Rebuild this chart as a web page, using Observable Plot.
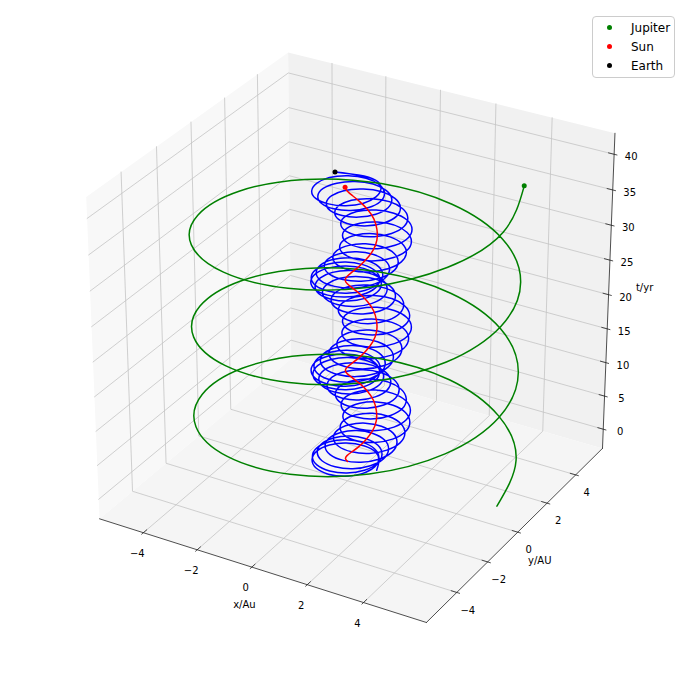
<!DOCTYPE html>
<html><head><meta charset="utf-8">
<script src="https://cdn.jsdelivr.net/npm/d3@7"></script>
<script src="https://cdn.jsdelivr.net/npm/@observablehq/plot@0.6"></script>
<style>
html,body{margin:0;padding:0;background:#fff}
#wrap{position:relative;width:691px;height:673px;font-family:"DejaVu Sans",sans-serif}
#legend{position:absolute;left:592px;top:16px;width:81px;height:60px;border:1px solid #ccc;border-radius:4px;background:rgba(255,255,255,.8);font-size:12px;color:#000}
#legend .row{position:absolute;left:0;height:14px;line-height:14px;white-space:nowrap}
#legend .dot{position:absolute;left:14px;top:4.5px;width:5px;height:5px;border-radius:50%}
#legend .lab{position:absolute;left:38px;top:0}
</style></head><body>
<div id="wrap"></div>
<script>
const xLim = [-5.65, 6.2], yLim = [-5.92, 5.92], tLim = [-2.92, 42.92];
const xTicks = [-4, -2, 0, 2, 4], yTicks = [-4, -2, 0, 2, 4], tTicks = [0, 5, 10, 15, 20, 25, 30, 35, 40];
const xTickLabels = ["−4", "−2", "0", "2", "4"], yTickLabels = ["−4", "−2", "0", "2", "4"], tTickLabels = ["0", "5", "10", "15", "20", "25", "30", "35", "40"];

const jupT = [0,1,2,3,4,5,6,7,8,9,10,11,12,13,14,15,16,17,18,19,20,21,22,23,24,25,26,27,28,29,30,31,32,33,34,35,36,37,38,39,40];
const jupX = [5.44,4.85,3.22,.92,-1.52,-3.55,-4.69,-4.69,-3.55,-1.52,.92,3.22,4.85,5.44,4.85,3.22,.92,-1.52,-3.55,-4.69,-4.69,-3.55,-1.52,.92,3.22,4.85,5.44,4.85,3.22,.92,-1.52,-3.55,-4.69,-4.69,-3.55,-1.52,.92,3.22,4.85,5.44,4.78];
const jupY = [0,2.39,4.23,5.10,4.81,3.41,1.23,-1.23,-3.41,-4.81,-5.10,-4.23,-2.39,0,2.39,4.23,5.10,4.81,3.41,1.23,-1.23,-3.41,-4.81,-5.10,-4.23,-2.39,0,2.39,4.23,5.10,4.81,3.41,1.23,-1.23,-3.41,-4.81,-5.10,-4.23,-2.39,0,2.60];

const sunX = [0,.06,.22,.44,.68,.87,.99,.99,.87,.68,.44,.22,.06,0,.06,.22,.44,.68,.87,.99,.99,.87,.68,.44,.22,.06,0,.06,.22,.44,.68,.87,.99,.99,.87,.68,.44,.22,.06,0,.06];
const sunY = [0,-.23,-.41,-.50,-.47,-.33,-.12,.12,.33,.47,.50,.41,.23,0,-.23,-.41,-.50,-.47,-.33,-.12,.12,.33,.47,.50,.41,.23,0,-.23,-.41,-.50,-.47,-.33,-.12,.12,.33,.47,.50,.41,.23,0,-.23];

const earthT = [0,.19,.38,.57,.75,.94,1.13,1.32,1.51,1.70,1.88,2.07,2.26,2.45,2.64,2.83,3.01,3.20,3.39,3.58,3.77,3.96,4.15,4.33,4.52,4.71,4.90,5.09,5.28,5.46,5.65,5.84,6.03,6.22,6.41,6.60,6.78,6.97,7.16,7.35,7.54,7.73,7.91,8.10,8.29,8.48,8.67,8.86,9.04,9.23,9.42,9.61,9.80,9.99,10.18,10.36,10.55,10.74,10.93,11.12,11.31,11.49,11.68,11.87,12.06,12.25,12.44,12.62,12.81,13.00,13.19,13.38,13.57,13.76,13.94,14.13,14.32,14.51,14.70,14.89,15.07,15.26,15.45,15.64,15.83,16.02,16.21,16.39,16.58,16.77,16.96,17.15,17.34,17.52,17.71,17.90,18.09,18.28,18.47,18.66,18.84,19.03,19.22,19.41,19.60,19.79,19.97,20.16,20.35,20.54,20.73,20.92,21.11,21.29,21.48,21.67,21.86,22.05,22.24,22.42,22.61,22.80,22.99,23.18,23.37,23.55,23.74,23.93,24.12,24.31,24.50,24.69,24.87,25.06,25.25,25.44,25.63,25.82,26.00,26.19,26.38,26.57,26.76,26.95,27.13,27.32,27.51,27.70,27.89,28.08,28.26,28.45,28.64,28.83,29.02,29.21,29.40,29.58,29.77,29.96,30.15,30.34,30.53,30.71,30.90,31.09,31.28,31.47,31.66,31.84,32.03,32.22,32.41,32.60,32.79,32.97,33.16,33.35,33.54,33.73,33.92,34.11,34.29,34.48,34.67,34.86,35.05,35.24,35.42,35.61,35.80,35.99,36.18,36.37,36.56,36.74,36.93,37.12,37.31,37.50,37.69,37.87,38.06,38.25,38.44,38.63,38.82,39.00,39.19,39.38,39.57,39.76,40];
const earthX = [1.08,.54,-.53,-1.06,-.51,.59,1.15,.64,-.41,-.92,-.35,.77,1.35,.85,-.19,-.68,-.10,1.03,1.61,1.12,.08,-.41,.17,1.29,1.87,1.36,.32,-.19,.38,1.48,2.04,1.52,.45,-.08,.46,1.54,2.08,1.53,.44,-.12,.40,1.46,1.97,1.40,.28,-.29,.21,1.25,1.75,1.16,.04,-.55,-.05,.98,1.48,.89,-.23,-.81,-.31,.73,1.24,.67,-.44,-1.01,-.49,.57,1.10,.55,-.54,-1.08,-.54,.55,1.10,.57,-.49,-1.01,-.44,.67,1.24,.73,-.31,-.81,-.23,.89,1.48,.98,-.05,-.55,.04,1.16,1.75,1.25,.21,-.29,.28,1.40,1.97,1.46,.40,-.12,.44,1.53,2.08,1.54,.46,-.08,.45,1.52,2.04,1.48,.38,-.19,.32,1.36,1.87,1.29,.17,-.41,.08,1.12,1.61,1.03,-.10,-.68,-.19,.85,1.35,.77,-.35,-.92,-.41,.64,1.15,.59,-.51,-1.06,-.53,.54,1.08,.54,-.53,-1.06,-.51,.59,1.15,.64,-.41,-.92,-.35,.77,1.35,.85,-.19,-.68,-.10,1.03,1.61,1.12,.08,-.41,.17,1.29,1.87,1.36,.32,-.19,.38,1.48,2.04,1.52,.45,-.08,.46,1.54,2.08,1.53,.44,-.12,.40,1.46,1.97,1.40,.28,-.29,.21,1.25,1.75,1.16,.04,-.55,-.05,.98,1.48,.89,-.23,-.81,-.31,.73,1.24,.67,-.44,-1.01,-.49,.57,1.10,.55,-.54,-1.08,-.54,.55,1.10,.57,-.73];
const earthY = [0,.89,.85,-.14,-1.12,-1.16,-.26,.64,.61,-.37,-1.34,-1.36,-.44,.48,.46,-.49,-1.44,-1.44,-.50,.45,.46,-.47,-1.39,-1.37,-.41,.56,.59,-.32,-1.22,-1.18,-.20,.78,.83,-.07,-.96,-.92,.07,1.05,1.10,.20,-.70,-.66,.32,1.29,1.32,.41,-.51,-.49,.47,1.42,1.43,.50,-.44,-.44,.49,1.42,1.40,.44,-.52,-.54,.37,1.27,1.24,.26,-.72,-.76,.14,1.03,.99,0,-.99,-1.03,-.14,.76,.72,-.26,-1.24,-1.27,-.37,.54,.52,-.44,-1.40,-1.42,-.49,.44,.44,-.50,-1.43,-1.42,-.47,.49,.51,-.41,-1.32,-1.29,-.32,.66,.70,-.20,-1.10,-1.05,-.07,.92,.96,.07,-.83,-.78,.20,1.18,1.22,.32,-.59,-.56,.41,1.37,1.39,.47,-.46,-.45,.50,1.44,1.44,.49,-.46,-.48,.44,1.36,1.34,.37,-.61,-.64,.26,1.16,1.12,.14,-.85,-.89,0,.89,.85,-.14,-1.12,-1.16,-.26,.64,.61,-.37,-1.34,-1.36,-.44,.48,.46,-.49,-1.44,-1.44,-.50,.45,.46,-.47,-1.39,-1.37,-.41,.56,.59,-.32,-1.22,-1.18,-.20,.78,.83,-.07,-.96,-.92,.07,1.05,1.10,.20,-.70,-.66,.32,1.29,1.32,.41,-.51,-.49,.47,1.42,1.43,.50,-.44,-.44,.49,1.42,1.40,.44,-.52,-.54,.37,1.27,1.24,.26,-.72,-.76,.14,1.03,.99,0,-.99,-1.03,-.14,.76,.51];

// matplotlib-style perspective (elev 30, azim -60, dist 10), cube normalised
const el = 30 * Math.PI / 180, az = -60 * Math.PI / 180, dist = 10;
const w = [Math.cos(el) * Math.cos(az), Math.cos(el) * Math.sin(az), Math.sin(el)];
const u = [-w[1] / Math.cos(el), w[0] / Math.cos(el), 0];
const v = [w[1] * u[2] - w[2] * u[1], w[2] * u[0] - w[0] * u[2], w[0] * u[1] - w[1] * u[0]];
function P(x, y, t) {
  const p = [(x - xLim[0]) / (xLim[1] - xLim[0]) - .5, (y - yLim[0]) / (yLim[1] - yLim[0]) - .5, (t - tLim[0]) / (tLim[1] - tLim[0]) - .5];
  const dot = a => a[0] * p[0] + a[1] * p[1] + a[2] * p[2];
  const d = dist - dot(w);
  return {X: dot(u) / d, Y: dot(v) / d};
}
const path = (id, pts) => pts.map(q => ({id, ...P(...q)}));
const [x0, x1] = xLim, [y0, y1] = yLim, [t0, t1] = tLim;

const paneLeft = path("l", [[x0,y0,t0],[x0,y1,t0],[x0,y1,t1],[x0,y0,t1],[x0,y0,t0]]);
const paneRight = path("r", [[x0,y1,t0],[x1,y1,t0],[x1,y1,t1],[x0,y1,t1],[x0,y1,t0]]);
const paneFloor = path("f", [[x0,y0,t0],[x1,y0,t0],[x1,y1,t0],[x0,y1,t0],[x0,y0,t0]]);

const grid = [
  ...xTicks.flatMap(x => path("gx" + x, [[x,y0,t0],[x,y1,t0],[x,y1,t1]])),
  ...yTicks.flatMap(y => path("gy" + y, [[x1,y,t0],[x0,y,t0],[x0,y,t1]])),
  ...tTicks.flatMap(t => path("gt" + t, [[x0,y0,t],[x0,y1,t],[x1,y1,t]]))
];
const axes = [
  ...path("ax", [[x0,y0,t0],[x1,y0,t0]]),
  ...path("ay", [[x1,y0,t0],[x1,y1,t0]]),
  ...path("at", [[x1,y1,t0],[x1,y1,t1]])
];
const dx12 = (x1 - x0) / 12, dy12 = (y1 - y0) / 12;
const ticks = [
  ...xTicks.flatMap(x => path("tx" + x, [[x,y0-.1*dy12,t0],[x,y0+.2*dy12,t0]])),
  ...yTicks.flatMap(y => path("ty" + y, [[x1+.1*dx12,y,t0],[x1-.2*dx12,y,t0]])),
  ...tTicks.flatMap(t => path("tt" + t, [[x1+.1*dx12,y1,t],[x1-.2*dx12,y1,t]]))
];
const xLabs = xTicks.map((x, i) => ({text: xTickLabels[i], ...P(x, y0, t0)}));
const yLabs = yTicks.map((y, i) => ({text: yTickLabels[i], ...P(x1, y, t0)}));
const tLabs = tTicks.map((t, i) => ({text: tTickLabels[i], ...P(x1, y1, t)}));

const jupiter = jupT.map((t, i) => P(jupX[i], jupY[i], t));
const sun = jupT.map((t, i) => P(sunX[i], sunY[i], t));
const earth = earthT.map((t, i) => P(earthX[i], earthY[i], t));
const last = a => [a[a.length - 1]];

const font = {fontFamily: "DejaVu Sans", fontSize: 10, fill: "#000", text: "text", x: "X", y: "Y"};
const pane = (d, fill) => Plot.line(d, {x: "X", y: "Y", fill, stroke: "none"});
const traj = (d, stroke) => Plot.line(d, {x: "X", y: "Y", stroke, strokeWidth: 1.5, curve: "natural"});

const chart = Plot.plot({
  width: 691, height: 673, margin: 0,
  x: {domain: [-354.4 / 3773, (691 - 354.4) / 3773], range: [0, 691], axis: null},
  y: {domain: [(327.3 - 673) / 3675, 327.3 / 3675], range: [673, 0], axis: null},
  style: {background: "transparent"},
  marks: [
    pane(paneLeft, "#f8f8f8"), pane(paneRight, "#f1f1f1"), pane(paneFloor, "#f5f5f5"),
    Plot.line(grid, {x: "X", y: "Y", z: "id", stroke: "#c4c4c4", strokeWidth: .8}),
    Plot.line(axes, {x: "X", y: "Y", z: "id", stroke: "#222", strokeWidth: .8}),
    Plot.line(ticks, {x: "X", y: "Y", z: "id", stroke: "#222", strokeWidth: .8}),
    Plot.text(xLabs, {...font, dx: -6, dy: 21}),
    Plot.text(yLabs, {...font, dx: 11, dy: 18}),
    Plot.text(tLabs, {...font, dx: 17, dy: 3}),
    Plot.text([{text: "x/Au", ...P((x0 + x1) / 2, y0, t0)}], {...font, dx: -15, dy: 35}),
    Plot.text([{text: "y/AU", ...P(x1, (y0 + y1) / 2, t0)}], {...font, dx: 22, dy: 29}),
    Plot.text([{text: "t/yr", ...P(x1, y1, (t0 + t1) / 2)}], {...font, dx: 36, dy: -7}),
    traj(earth, "blue"), traj(jupiter, "green"), traj(sun, "red"),
    Plot.dot(last(jupiter), {x: "X", y: "Y", r: 2.5, fill: "green"}),
    Plot.dot(last(sun), {x: "X", y: "Y", r: 2.5, fill: "red"}),
    Plot.dot(last(earth), {x: "X", y: "Y", r: 2.5, fill: "black"})
  ]
});
const wrap = document.getElementById("wrap");
wrap.appendChild(chart);
const legendNames = ["Jupiter", "Sun", "Earth"], legendColors = ["green", "red", "black"];
const legend = document.createElement("div");
legend.id = "legend";
legend.innerHTML = legendNames.map((n, i) => `<div class="row" style="top:${3.5 + 19 * i}px;width:100%"><span class="dot" style="background:${legendColors[i]}"></span><span class="lab">${n}</span></div>`).join("");
wrap.appendChild(legend);
</script>
</body></html>
